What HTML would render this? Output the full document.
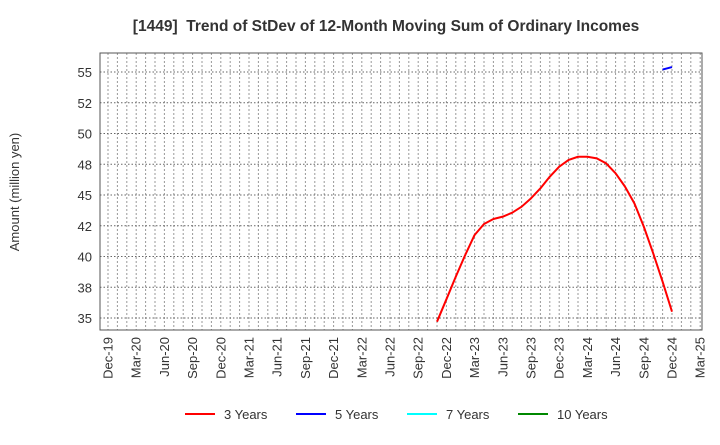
<!DOCTYPE html>
<html><head><meta charset="utf-8"><style>
body{margin:0;background:#fff;font-family:"Liberation Sans",sans-serif}
</style></head><body>
<svg width="720" height="440" xmlns="http://www.w3.org/2000/svg" font-family="Liberation Sans, sans-serif">
<text x="386" y="31" text-anchor="middle" font-size="15.5" font-weight="bold" fill="#333" xml:space="preserve">[1449]  Trend of StDev of 12-Month Moving Sum of Ordinary Incomes</text>
<text transform="translate(19,192) rotate(-90)" text-anchor="middle" font-size="13" fill="#333">Amount (million yen)</text>
<g id="grid"></g>
<g id="axes"></g>
<g id="series"></g>
<rect x="100" y="53" width="602" height="277" fill="none" stroke="#555" stroke-width="1"/>
<g font-size="13" fill="#333">
<g><line x1="185" y1="414" x2="215" y2="414" stroke="#f00" stroke-width="2"/><text x="224" y="419">3 Years</text></g>
<g><line x1="296" y1="414" x2="326" y2="414" stroke="#00f" stroke-width="2"/><text x="335" y="419">5 Years</text></g>
<g><line x1="407" y1="414" x2="437" y2="414" stroke="#0ff" stroke-width="2"/><text x="446" y="419">7 Years</text></g>
<g><line x1="518" y1="414" x2="548" y2="414" stroke="#080" stroke-width="2"/><text x="557" y="419">10 Years</text></g>
</g>
</svg>
<script>
const xTickLabels=["Dec-19","Mar-20","Jun-20","Sep-20","Dec-20","Mar-21","Jun-21","Sep-21","Dec-21","Mar-22","Jun-22","Sep-22","Dec-22","Mar-23","Jun-23","Sep-23","Dec-23","Mar-24","Jun-24","Sep-24","Dec-24","Mar-25"];
const yTickValues=[35,37.5,40,42.5,45,47.5,50,52.5,55];
const yTickLabels=["35","38","40","42","45","48","50","52","55"];
const red3Start=35; // months after Dec-19 (Nov-22)
const red3Values=[34.70,36.52,38.36,40.12,41.75,42.64,43.05,43.24,43.56,44.05,44.73,45.54,46.49,47.30,47.85,48.11,48.11,47.98,47.57,46.76,45.68,44.32,42.43,40.26,37.95,35.51];
const blue5Start=59;
const blue5Values=[55.2,55.4];
const NS="http://www.w3.org/2000/svg";
const X0=108,MW=9.4;
function xs(m){return X0+m*MW;}
function ys(v){return 318-(v-35)*12.3;}
function mk(tag,attrs,parent){const e=document.createElementNS(NS,tag);for(const k in attrs)e.setAttribute(k,attrs[k]);parent.appendChild(e);return e;}
const grid=document.getElementById('grid'),axes=document.getElementById('axes'),series=document.getElementById('series');
for(let m=0;m<=63;m++){const l=mk('line',{x1:xs(m),x2:xs(m),y1:53,y2:330,stroke:'#999','stroke-dasharray':'2,2','stroke-width':1},grid);

}
yTickValues.forEach((v,i)=>{const l=mk('line',{x1:100,x2:702,y1:ys(v),y2:ys(v),stroke:'#666','stroke-dasharray':'1.5,2','stroke-width':1},grid);


const t=mk('text',{x:92,y:ys(v)+5,'text-anchor':'end','font-size':13,fill:'#333'},axes);t.textContent=yTickLabels[i];

});
xTickLabels.forEach((s,i)=>{const x=xs(i*3);const t=mk('text',{transform:`translate(${x+4.5},337) rotate(-90)`,'text-anchor':'end','font-size':13,fill:'#333'},axes);t.textContent=s;

});
function line(start,vals,color,name){const p=mk('polyline',{points:vals.map((v,i)=>xs(start+i)+','+ys(v)).join(' '),fill:'none',stroke:color,'stroke-width':2,'stroke-linejoin':'round'},series);

}
line(red3Start,red3Values,'#f00','series-3-years');
line(blue5Start,blue5Values,'#00f','series-5-years');
</script>
</body></html>
